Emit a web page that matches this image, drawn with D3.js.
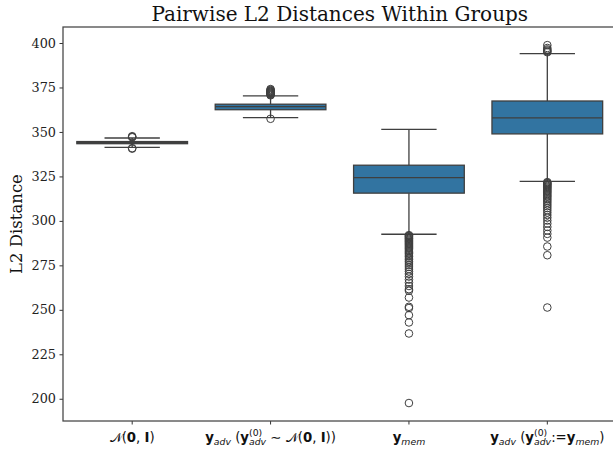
<!DOCTYPE html>
<html><head><meta charset="utf-8">
<script src="https://cdn.jsdelivr.net/npm/d3@7"></script>
<style>body{margin:0;background:#fff;overflow:hidden}</style>
</head><body><svg id="c" width="613" height="451"></svg>
<script>
// ---- data ----
const categories = ["N01", "yadv_noise", "ymem", "yadv_mem"];
const q1Values = [343.4, 362.5, 315.6, 348.9];
const medianValues = [344.0, 364.2, 324.3, 357.9];
const q3Values = [344.6, 365.6, 331.3, 367.4];
const whiskerLowValues = [341.3, 358.0, 292.5, 322.2];
const whiskerHighValues = [346.6, 370.3, 351.5, 394.0];
const outliersN01 = [347.0, 347.3, 347.6, 340.9, 340.6];
const outliersYadvNoise = [370.6, 370.9, 371.2, 371.5, 371.8, 372.1, 372.4, 372.7, 373.0, 373.3, 373.7, 374.1, 357.4];
const outliersYmem = [292.0, 291.6, 291.2, 290.8, 290.3, 289.9, 289.4, 288.9, 288.4, 287.9, 287.3, 286.8, 286.2, 285.6, 285.0, 284.4, 283.7, 283.0, 282.3, 281.6, 280.8, 280.0, 279.1, 278.2, 277.3, 276.3, 275.2, 274.1, 272.9, 271.6, 270.2, 268.7, 267.0, 265.3, 263.4, 261.6, 260.7, 256.9, 251.7, 251.0, 247.0, 242.9, 236.7, 197.6];
const outliersYadvMem = [394.8, 395.3, 395.8, 396.4, 397.2, 398.8, 321.8, 321.4, 321.0, 320.6, 320.2, 319.7, 319.2, 318.7, 318.2, 317.6, 317.0, 316.4, 315.8, 315.1, 314.4, 313.7, 312.9, 312.1, 311.2, 310.3, 309.3, 308.3, 307.2, 306.0, 304.7, 303.3, 301.8, 300.2, 298.5, 296.6, 294.6, 292.7, 290.6, 285.6, 280.7, 251.3];
const outlierSets = [outliersN01, outliersYadvNoise, outliersYmem, outliersYadvMem];
const yTicks = [200, 225, 250, 275, 300, 325, 350, 375, 400];
const yDomain = [187.5, 409];
const titleText = "Pairwise L2 Distances Within Groups";
const yLabelText = "L2 Distance";
// tick label markup pieces
const tickLabels = [
  [["cal","\u{1D4A9}"],["n","("],["b","0"],["n",", "],["b","I"],["n",")"]],
  [["b","y"],["sub","adv"],["n"," ("],["b","y"],["supsub","(0)","adv"],["n"," \u223C "],["cal","\u{1D4A9}"],["n","("],["b","0"],["n",", "],["b","I"],["n","))"]],
  [["b","y"],["sub","mem"]],
  [["b","y"],["sub","adv"],["n"," ("],["b","y"],["supsub","(0)","adv"],["n",":="],["b","y"],["sub","mem"],["n",")"]]
];

// ---- layout ----
const L = 63, R = 616.5, T = 27, B = 421;
const svg = d3.select("#c");
const x = d3.scaleBand().domain(categories).range([L, R]).paddingInner(0).paddingOuter(0);
const y = d3.scaleLinear().domain(yDomain).range([B, T]);
const bw = x.bandwidth() * 0.8;
const fill = "#3274a1", line = "#3f3f3f";
const serif = "'DejaVu Serif', serif";
const sans = "'DejaVu Sans', sans-serif";

const data = categories.map((c, i) => ({c, q1: q1Values[i], med: medianValues[i], q3: q3Values[i], lo: whiskerLowValues[i], hi: whiskerHighValues[i], out: outlierSets[i]}));

const g = svg.append("g");
data.forEach(d => {
  const cx = x(d.c) + x.bandwidth() / 2;
  g.append("line").attr("x1", cx).attr("x2", cx).attr("y1", y(d.q3)).attr("y2", y(d.hi)).attr("stroke", line).attr("stroke-width", 1.3);
  g.append("line").attr("x1", cx).attr("x2", cx).attr("y1", y(d.q1)).attr("y2", y(d.lo)).attr("stroke", line).attr("stroke-width", 1.3);
  [d.lo, d.hi].forEach(v => g.append("line").attr("x1", cx - bw / 4).attr("x2", cx + bw / 4).attr("y1", y(v)).attr("y2", y(v)).attr("stroke", line).attr("stroke-width", 1.3));
  g.append("rect").attr("x", cx - bw / 2).attr("width", bw).attr("y", y(d.q3)).attr("height", Math.max(0.5, y(d.q1) - y(d.q3)))
    .attr("fill", fill).attr("stroke", line).attr("stroke-width", 1.3);
  g.append("line").attr("x1", cx - bw / 2).attr("x2", cx + bw / 2).attr("y1", y(d.med)).attr("y2", y(d.med)).attr("stroke", line).attr("stroke-width", 1.3);
  g.selectAll(null).data(d.out).enter().append("circle")
    .attr("cx", cx).attr("cy", v => y(v)).attr("r", 3.8)
    .attr("fill", "none").attr("stroke", line).attr("stroke-width", 1);
});

// axes
const yAxis = d3.axisLeft(y).tickValues(yTicks).tickSize(3.5).tickPadding(3.5).tickFormat(d3.format("d"));
const ya = svg.append("g").attr("transform", `translate(${L},0)`).call(yAxis);
ya.select(".domain").remove();
ya.selectAll("line").attr("stroke", "#333").attr("stroke-width", 1);
ya.selectAll("text").attr("font-family", serif).attr("font-size", 12.8).attr("fill", "#222");
const xAxis = d3.axisBottom(x).tickSize(3.5).tickFormat("");
const xa = svg.append("g").attr("transform", `translate(0,${B})`).call(xAxis);
xa.select(".domain").remove();
xa.selectAll("line").attr("stroke", "#333").attr("stroke-width", 1);

// spines
svg.append("rect").attr("x", L).attr("y", T).attr("width", R - L).attr("height", B - T)
  .attr("fill", "none").attr("stroke", "#444").attr("stroke-width", 1.25);

// x tick labels (math-like)
const fs = 13.3;
categories.forEach((c, i) => {
  const lg = svg.append("g");
  let cur = 0;
  const base = 442;
  function put(txt, opts) {
    const t = lg.append("text").attr("x", cur).attr("y", base + (opts.dy || 0))
      .attr("font-family", opts.family || sans).attr("font-size", opts.size || fs)
      .attr("font-weight", opts.bold ? "bold" : "normal").attr("font-style", opts.italic ? "italic" : "normal")
      .attr("fill", "#111").style("white-space", "pre").text(txt);
    return t.node().getComputedTextLength();
  }
  tickLabels[i].forEach(p => {
    const [kind, a, b] = p;
    if (kind === "n") cur += put(a, {});
    else if (kind === "b") cur += put(a, {bold: true});
    else if (kind === "cal") cur += put(a, {family: serif});
    else if (kind === "sub") cur += put(a, {italic: true, size: fs * 0.7, dy: 2.8});
    else if (kind === "supsub") {
      const w1 = put(a, {size: fs * 0.7, dy: -6.5});
      const w2 = put(b, {italic: true, size: fs * 0.7, dy: 3});
      cur += Math.max(w1, w2);
    }
  });
  const cx = x(c) + x.bandwidth() / 2;
  lg.attr("transform", `translate(${cx - cur / 2},0)`);
});

// title
svg.append("text").attr("x", (L + R) / 2).attr("y", 21).attr("text-anchor", "middle")
  .attr("font-family", serif).attr("font-size", 20).attr("fill", "#111").text(titleText);
// y label
svg.append("text").attr("transform", `translate(22,${(T + B) / 2}) rotate(-90)`).attr("text-anchor", "middle")
  .attr("font-family", serif).attr("font-size", 16.5).attr("fill", "#111").text(yLabelText);
</script></body></html>
